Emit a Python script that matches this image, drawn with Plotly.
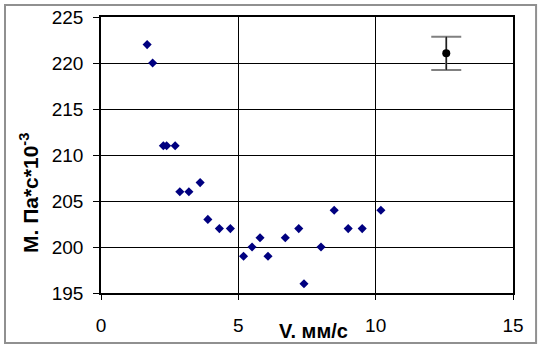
import plotly.graph_objects as go

v = [1.68, 1.88, 2.27, 2.39, 2.70, 2.87, 3.20, 3.61, 3.89, 4.31, 4.71,
     5.19, 5.50, 5.79, 6.08, 6.71, 7.20, 7.39, 8.01, 8.49, 9.00, 9.51, 10.19]
m = [222, 220, 211, 211, 211, 206, 206, 207, 203, 202, 202,
     199, 200, 201, 199, 201, 202, 196, 200, 204, 202, 202, 204]

err_x = [12.57]
err_y = [221.05]
err_size = [1.8]

x_ticks = [0, 5, 10, 15]
y_ticks = [195, 200, 205, 210, 215, 220, 225]

FONT = "Liberation Sans, Arial, sans-serif"

fig = go.Figure()
fig.add_trace(go.Scatter(
    x=v, y=m, mode="markers",
    marker=dict(symbol="diamond", size=7, color="#000080"),
    showlegend=False, cliponaxis=False))
# error bar caps (gray)
fig.add_trace(go.Scatter(
    x=err_x, y=err_y, mode="markers",
    marker=dict(size=1, color="rgba(0,0,0,0)"),
    error_y=dict(type="data", array=err_size, visible=True,
                 color="#808080", thickness=2, width=15),
    showlegend=False, hoverinfo="skip"))
# error bar stem (black) and point
fig.add_trace(go.Scatter(
    x=err_x, y=err_y, mode="markers",
    marker=dict(symbol="circle", size=8, color="black"),
    error_y=dict(type="data", array=err_size, visible=True,
                 color="black", thickness=1, width=0),
    showlegend=False))

fig.update_layout(
    width=542, height=350,
    margin=dict(l=101, r=29, t=17, b=57, autoexpand=False),
    paper_bgcolor="white", plot_bgcolor="white",
    font=dict(family=FONT, size=19, color="black"),
    xaxis=dict(range=[0, 15], tickvals=x_ticks, showgrid=True,
               gridcolor="black", gridwidth=1, zeroline=False,
               showline=True, linecolor="black", linewidth=1.5, mirror=True,
               ticks="outside", ticklen=5, tickcolor="black",
               tickfont=dict(size=19), ticklabelstandoff=9, automargin=False),
    yaxis=dict(range=[195, 225], tickvals=y_ticks, showgrid=True,
               gridcolor="black", gridwidth=1, zeroline=False,
               showline=True, linecolor="black", linewidth=1.5, mirror=True,
               ticks="outside", ticklen=6, tickcolor="black",
               tickfont=dict(size=19), ticklabelstandoff=6, automargin=False),
    shapes=[dict(type="rect", xref="paper", yref="paper",
                 x0=-0.233, x1=1.056, y0=-0.181, y1=1.0435,
                 line=dict(color="#909090", width=2), layer="below")],
    annotations=[
        dict(text="<b>V. мм/с</b>", xref="paper", yref="paper",
             x=(313 - 101) / 412, y=(293 - 331) / 276,
             xanchor="center", yanchor="middle", showarrow=False,
             font=dict(size=20, family=FONT)),
        dict(text="<b>M. Па*с*10<sup>-3</sup></b>", xref="paper", yref="paper",
             x=(29 - 101) / 412, y=(293 - 193) / 276, textangle=-90,
             xanchor="center", yanchor="middle", showarrow=False,
             font=dict(size=21, family=FONT)),
    ],
)

fig.write_html("out.html")
